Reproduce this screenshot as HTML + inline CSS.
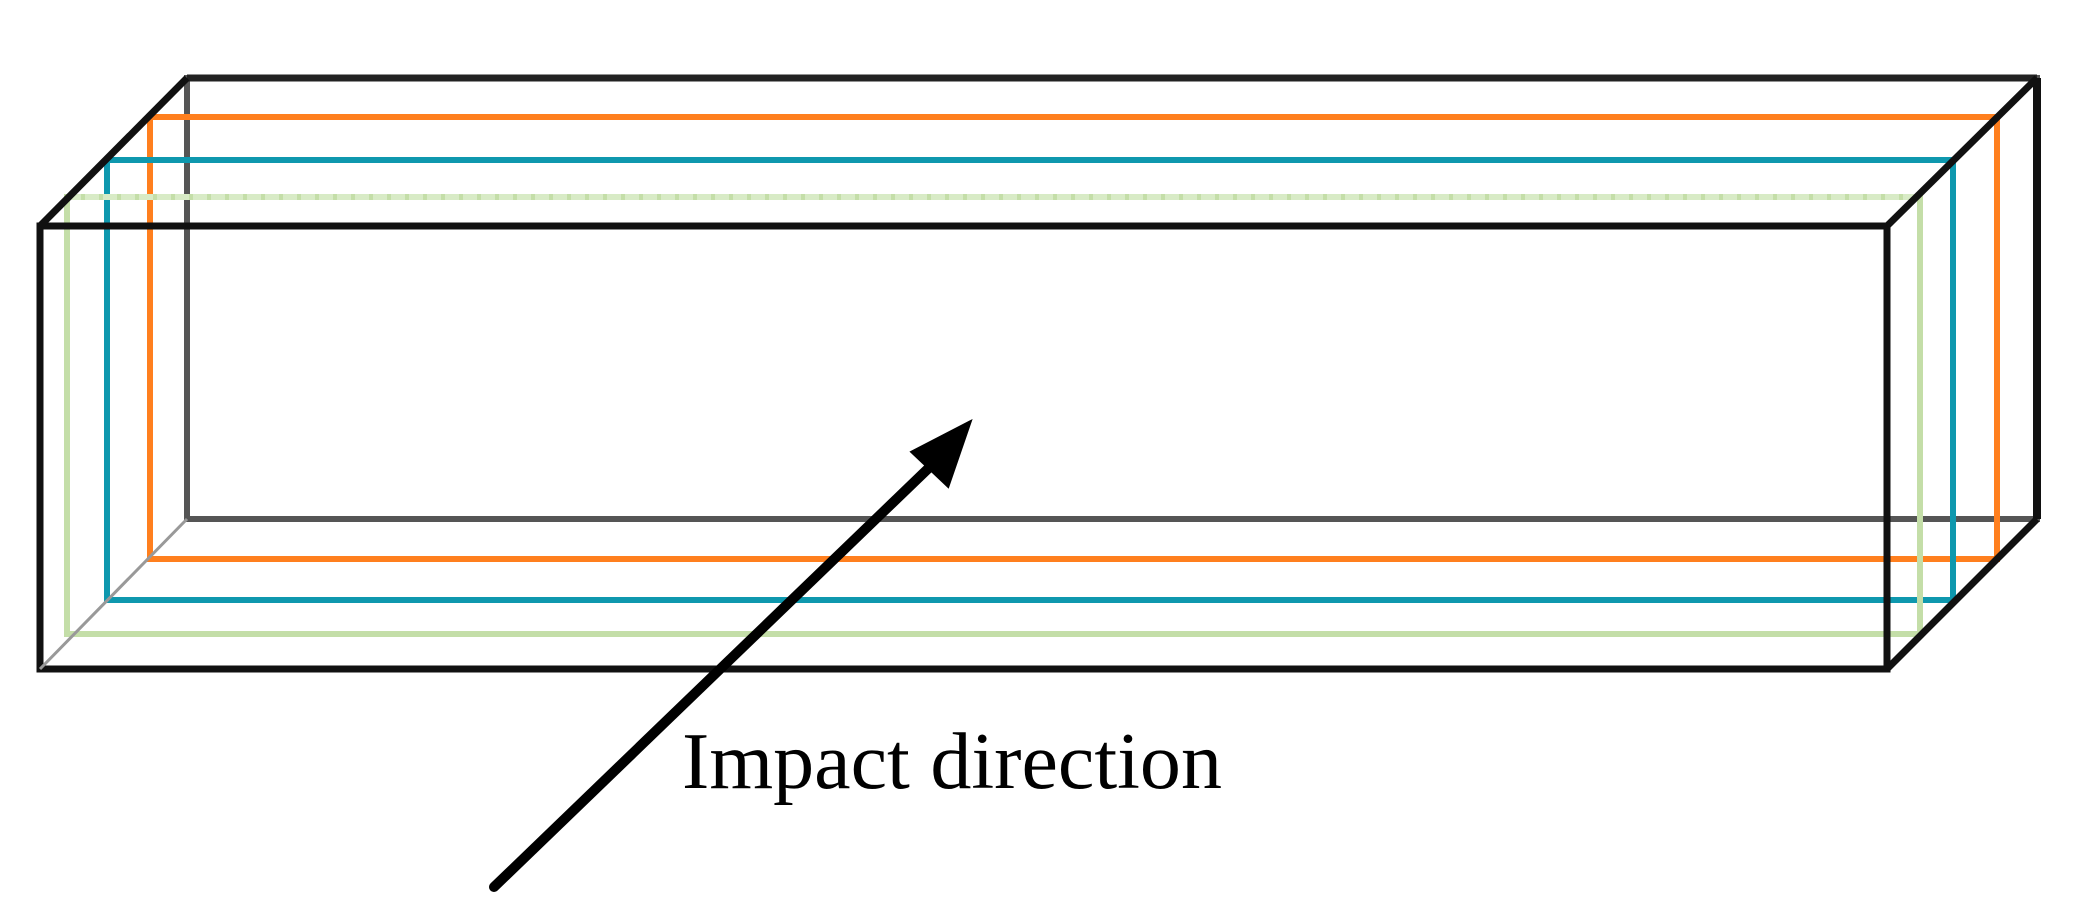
<!DOCTYPE html>
<html><head><style>html,body{margin:0;padding:0;background:#fff;}svg{display:block}</style></head>
<body>
<svg width="2081" height="916" viewBox="0 0 2081 916" xmlns="http://www.w3.org/2000/svg">
<g fill="none" stroke-linejoin="miter">
<rect x="187" y="78" width="1850" height="441" stroke="#555" stroke-width="6"/>
<line x1="187" y1="78" x2="2037" y2="78" stroke="#222" stroke-width="7"/>
<line x1="2037" y1="78" x2="2037" y2="519" stroke="#111" stroke-width="8"/>
<rect x="150" y="117" width="1847" height="442" stroke="#ff7f1e" stroke-width="6"/>
<rect x="107" y="160" width="1846" height="440" stroke="#0e98ae" stroke-width="6"/>
<rect x="67" y="197" width="1853" height="437" stroke="#c4dea8" stroke-width="6"/>
<line x1="67" y1="197" x2="1920" y2="197" stroke="#d8ebc6" stroke-width="6" stroke-dasharray="14 4"/>
<rect x="40" y="226" width="1847" height="443" stroke="#111" stroke-width="7"/>
<line x1="40" y1="226" x2="187" y2="78" stroke="#111" stroke-width="7"/>
<line x1="1887" y1="226" x2="2037" y2="78" stroke="#111" stroke-width="7"/>
<line x1="1887" y1="669" x2="2037" y2="519" stroke="#111" stroke-width="7"/>
<line x1="40" y1="669" x2="187" y2="519" stroke="#999" stroke-width="3"/>
<line x1="494" y1="887" x2="935" y2="462" stroke="#000" stroke-width="10" stroke-linecap="round"/>
<polygon points="970,422 912,452 948,486" fill="#000" stroke="#000" stroke-width="3"/>
</g>
<text x="682" y="788" font-family="Liberation Serif, serif" font-size="80" fill="#000" textLength="540" lengthAdjust="spacingAndGlyphs">Impact direction</text>
</svg>
</body></html>
